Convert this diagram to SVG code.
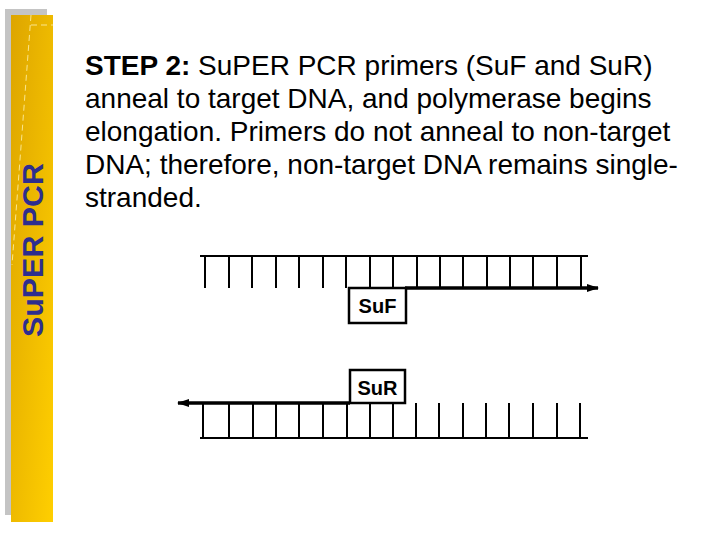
<svg xmlns="http://www.w3.org/2000/svg" width="720" height="540" viewBox="0 0 720 540">
<defs>
<linearGradient id="bar" x1="0" y1="0" x2="1" y2="1" gradientUnits="objectBoundingBox">
<stop offset="0" stop-color="#DDA500"/>
<stop offset="1" stop-color="#FFCF00"/>
</linearGradient>
<marker id="ah" viewBox="0 0 12 8" refX="11" refY="4" markerWidth="12" markerHeight="8" markerUnits="userSpaceOnUse" orient="auto">
<path d="M0,0 L12,4 L0,8 Z" fill="#000"/>
</marker>
<style>
.body{font-family:"Liberation Sans",Arial,sans-serif;font-size:28px;fill:#000}
.lbl{font-family:"Liberation Sans",Arial,sans-serif;font-size:20px;font-weight:bold;fill:#000;text-anchor:middle}
.strand{stroke:#000;stroke-width:2;fill:none}
.tick{stroke:#000;stroke-width:2}
.primer{stroke:#000;stroke-width:3.5;fill:none}
.box{fill:#fff;stroke:#000;stroke-width:2.5}
</style>
</defs>
<rect width="720" height="540" fill="#fff"/>
<g id="sidebar">
<rect x="5" y="9" width="42" height="506" fill="#C4C4C4"/>
<rect x="11" y="15" width="42" height="507" fill="url(#bar)"/>
<path d="M31,15 L12,265 M31,25 L53,25" stroke="#FFF3B0" stroke-width="1" stroke-dasharray="6,4" fill="none" opacity="0.8"/>
<text transform="translate(43,250) rotate(-90)" text-anchor="middle" font-family="Liberation Sans,Arial,sans-serif" font-weight="bold" font-size="29" fill="#2E2E8E" textLength="174" lengthAdjust="spacingAndGlyphs">SuPER PCR</text>
</g>
<g id="description">
<text class="body" x="85" y="75"><tspan font-weight="bold">STEP 2:</tspan> SuPER PCR primers (SuF and SuR)</text>
<text class="body" x="85" y="108">anneal to target DNA, and polymerase begins</text>
<text class="body" x="85" y="141">elongation. Primers do not anneal to non-target</text>
<text class="body" x="85" y="174">DNA; therefore, non-target DNA remains single-</text>
<text class="body" x="85" y="207">stranded.</text>
</g>
<g id="top-strand">
<line class="strand" x1="200" y1="256" x2="588" y2="256"/>
<path class="tick" d="M205,256V288 M229,256V288 M252,256V288 M276,256V288 M299,256V288 M323,256V288 M346,256V288 M370,256V288 M393,256V288 M417,256V288 M440,256V288 M463,256V288 M487,256V288 M510,256V288 M533,256V288 M557,256V288 M581,256V288"/>
</g>
<g id="bottom-strand">
<line class="strand" x1="200" y1="438" x2="588" y2="438"/>
<path class="tick" d="M203,403V438 M229,403V438 M253,403V438 M276,403V438 M299,403V438 M323,403V438 M347,403V438 M370,403V438 M393,403V438 M416,403V438 M439,403V438 M463,403V438 M486,403V438 M509,403V438 M533,403V438 M557,403V438 M580,403V438"/>
</g>
<g id="connectors">
<line class="primer" x1="405" y1="288" x2="598" y2="288" marker-end="url(#ah)"/>
<line class="primer" x1="350" y1="403" x2="178" y2="403" marker-end="url(#ah)"/>
</g>
<g id="SuF">
<rect class="box" x="349" y="288" width="57" height="35"/>
<text class="lbl" x="377.5" y="313">SuF</text>
</g>
<g id="SuR">
<rect class="box" x="350" y="370" width="55" height="33"/>
<text class="lbl" x="377.5" y="395">SuR</text>
</g>
</svg>
